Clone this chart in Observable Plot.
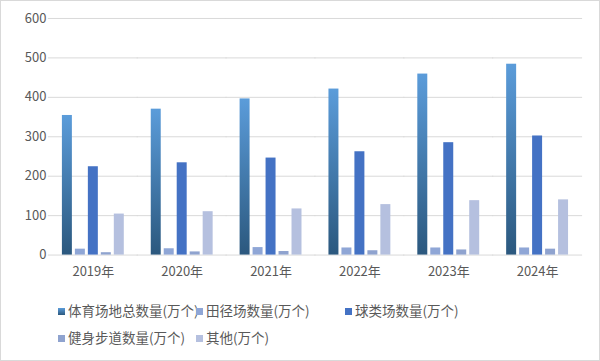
<!DOCTYPE html>
<html><head><meta charset="utf-8">
<script src="https://cdn.jsdelivr.net/npm/d3@7"></script>
<script src="https://cdn.jsdelivr.net/npm/@observablehq/plot@0.6"></script>
<style>
body{margin:0;background:#fff;}
#wrap{position:relative;width:600px;height:361px;box-sizing:border-box;border:1px solid #d9d9d9;overflow:hidden;font-family:"Noto Sans CJK SC","Noto Sans",sans-serif;background:#fff;}
#chart{position:absolute;left:-1px;top:-1px;}
.lg{position:absolute;font-size:13.5px;color:#595959;white-space:nowrap;line-height:16px;}
.sw{display:inline-block;width:7px;height:7px;margin-right:3px;vertical-align:1px;}
</style></head>
<body>
<div id="wrap"><div id="chart"></div></div>
<script>
const years = ["2019年","2020年","2021年","2022年","2023年","2024年"];
const seriesNames = ["体育场地总数量(万个)","田径场数量(万个)","球类场数量(万个)","健身步道数量(万个)","其他(万个)"];
const total = [354, 370, 396, 421, 459, 484];
const track = [15, 16, 19, 18, 18, 18];
const ball  = [224, 234, 246, 262, 285, 302];
const trail = [6, 8, 9, 11, 13, 15];
const other = [104, 110, 117, 128, 138, 140];
const yTicks = [0, 100, 200, 300, 400, 500, 600];
const colors = ["url(#gTotal)", "#8fa6d6", "#4472c4", "#8fa3cf", "#b5c0df"];
const gradBottom = "#2b587e", gradTop = "#5b9cda";

const seriesValues = [total, track, ball, trail, other];
const rows = [];
years.forEach((yr, i) => seriesNames.forEach((s, j) => rows.push({year: yr, series: s, value: seriesValues[j][i]})));

const W = 600, ML = 48, MR = 18, PI = 0.26, PO = 0.13;
const step = (W - ML - MR) / (years.length - PI + 2 * PO);
const ext = -(PI * step) / 2 - 0.5;

const plot = Plot.plot({
  width: W, height: 290,
  marginTop: 18, marginBottom: 35, marginLeft: ML, marginRight: MR,
  style: {fontFamily: '"Noto Sans CJK SC","Noto Sans",sans-serif', fontSize: "13px", color: "#595959", background: "transparent"},
  fx: {domain: years, paddingInner: PI, paddingOuter: PO, label: null, tickSize: 0, tickPadding: 12},
  x: {domain: seriesNames, axis: null, paddingInner: 0.2, paddingOuter: 0},
  y: {domain: [0, 600], ticks: yTicks, label: null, tickSize: 0, tickPadding: 14},
  color: {domain: seriesNames.slice(1), range: colors.slice(1)},
  marks: [
    () => {
      const svg = d3.create("svg:defs");
      const g = svg.append("linearGradient").attr("id", "gTotal").attr("x1", 0).attr("y1", 1).attr("x2", 0).attr("y2", 0);
      g.append("stop").attr("offset", "0%").attr("stop-color", gradBottom);
      g.append("stop").attr("offset", "100%").attr("stop-color", gradTop);
      return svg.node();
    },
    Plot.ruleY(yTicks, {y: d => d, stroke: "#d9d9d9", strokeOpacity: 1, insetLeft: ext, insetRight: ext}),
    Plot.barY(rows.filter(d => d.series === seriesNames[0]), {fx: "year", x: "series", y: "value", fill: colors[0]}),
    Plot.barY(rows.filter(d => d.series !== seriesNames[0]), {fx: "year", x: "series", y: "value", fill: "series"})
  ]
});
document.getElementById("chart").appendChild(plot);

const wrap = document.getElementById("wrap");
const legendPos = [[57, 301], [195, 301], [344, 301], [57, 328], [195, 328]];
seriesNames.forEach((s, j) => {
  const d = document.createElement("div");
  d.className = "lg";
  d.style.left = legendPos[j][0] + "px";
  d.style.top = legendPos[j][1] + "px";
  const bg = j === 0 ? `linear-gradient(to top,${gradBottom},${gradTop})` : colors[j];
  d.innerHTML = `<span class="sw" style="background:${bg}"></span>${s}`;
  wrap.appendChild(d);
});
</script>
</body></html>
